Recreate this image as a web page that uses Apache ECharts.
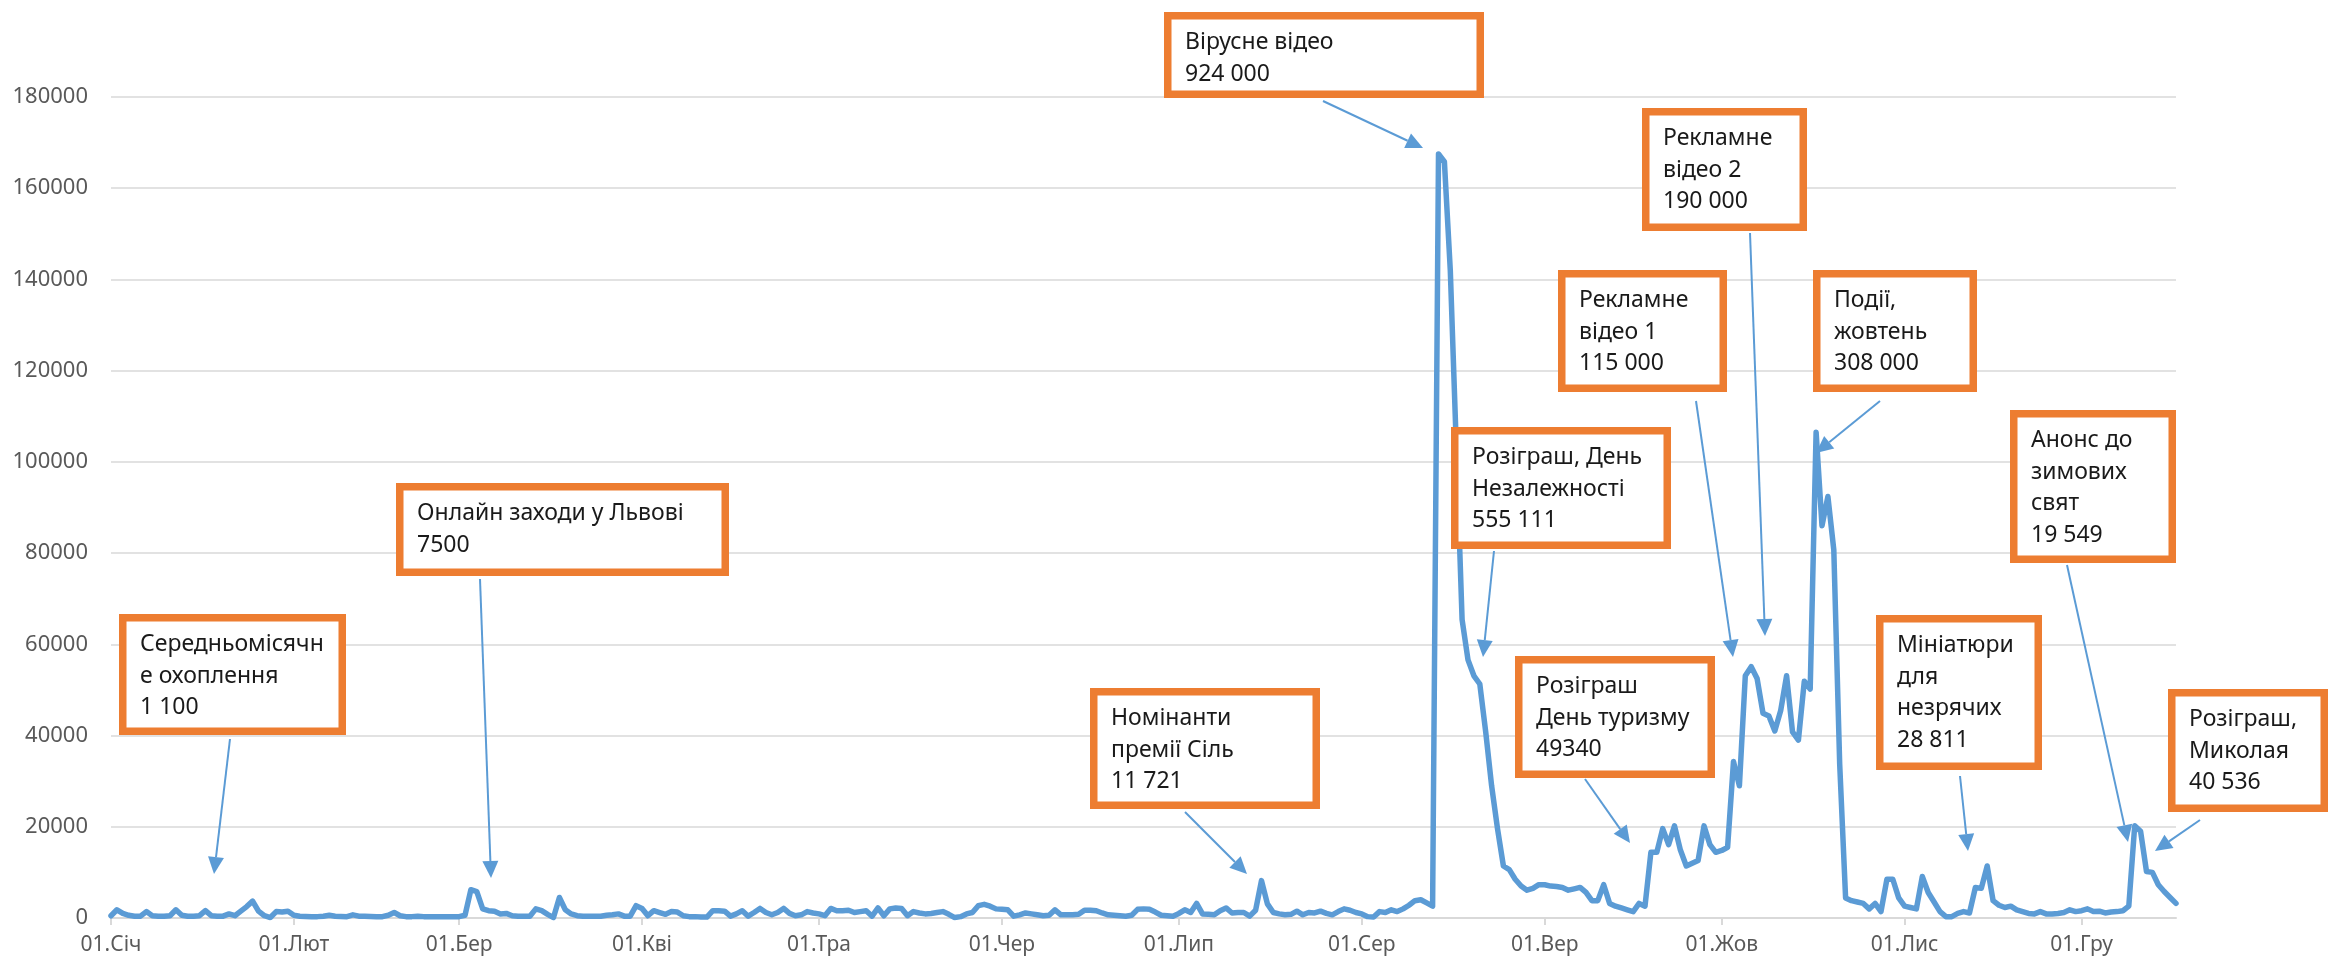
<!DOCTYPE html>
<html><head><meta charset="utf-8">
<script src="https://cdn.jsdelivr.net/npm/echarts@6/dist/echarts.min.js"></script>
<style>html,body{margin:0;padding:0;background:#fff}#c{width:2331px;height:965px}</style>
</head><body><div id="c"></div><script>
// ---- data ----
const monthNames = ['Січ','Лют','Бер','Кві','Тра','Чер','Лип','Сер','Вер','Жов','Лис','Гру'];
const monthDays  = [31,28,31,30,31,30,31,31,30,31,30,17];
const jan = [500,1800,1000,600,400,400,1400,500,400,400,500,1800,600,400,400,500,1600,500,400,400,900,500,1500,2500,3700,1500,500,100,1400,1300,1500];
const feb = [600,400,350,300,300,400,600,400,350,300,700,400,400,350,300,300,600,1200,500,300,300,400,300,300,300,300,300,300];
const mar = [300,600,6200,5800,2000,1600,1500,900,1000,500,400,400,400,2000,1600,800,100,4500,1800,900,500,400,400,400,400,600,700,900,400,400,2700];
const apr = [2100,500,1600,1200,800,1400,1300,500,300,300,200,200,1600,1600,1500,400,900,1600,400,1200,2100,1200,700,1200,2100,1000,500,700,1400,1100];
const may = [900,500,2100,1600,1600,1700,1200,1400,1600,400,2200,500,2000,2200,2100,500,1400,1100,900,1000,1200,1400,800,100,300,900,1200,2700,3000,2600,2000];
const jun = [1900,1800,400,700,1100,900,700,500,600,1800,700,700,700,800,1700,1700,1600,1100,700,600,500,400,600,1900,2000,1900,1300,600,500,400];
const jul = [1000,1800,1200,3200,900,800,700,1600,2200,1100,1200,1200,400,1700,8200,3100,1200,900,700,800,1500,700,1200,1100,1500,1000,700,1400,2000,1700,1200];
const aug = [900,300,200,1400,1200,1800,1400,2000,2800,3800,4000,3300,2600,167500,165800,142000,104000,65400,56600,53100,51300,40800,29000,19600,11400,10600,8500,7000,6100,6500,7300];
const sep = [7300,7000,6900,6700,6100,6400,6700,5600,3800,3800,7300,3200,2600,2200,1800,1400,3200,2600,14400,14400,19600,16100,20200,14900,11400,12000,12600,20200,16100,14400];
const oct = [14800,15500,34300,29000,53100,55100,52500,44900,44300,41000,45500,53100,40800,39000,51900,50200,106500,86000,92400,80700,33700,4400,3800,3500,3200,2000,3200,1400,8500,8500,4400];
const nov = [2600,2300,2000,9100,5600,3500,1400,300,300,1000,1400,1100,6700,6500,11400,3800,2800,2300,2600,1800,1400,1000,900,1400,900,900,1000,1200,1800,1400];
const dec = [1600,2000,1400,1500,1100,1300,1400,1600,2600,20200,19000,10200,10000,7300,5800,4500,3200];
const values = [].concat(jan,feb,mar,apr,may,jun,jul,aug,sep,oct,nov,dec);
const yMin = 0, yMax = 180000, yStep = 20000;

const categories = [];
const monthStarts = [];
monthNames.forEach((m, i) => {
  monthStarts.push(categories.length);
  for (let d = 1; d <= monthDays[i]; d++) categories.push(String(d).padStart(2,'0') + '.' + m);
});

const notes = [
  {lines:['Середньомісячн','е охоплення','1 100'], box:[119,614,346,735], arrow:[230,739,214,874]},
  {lines:['Онлайн заходи у Львові','7500'], box:[396,483,729,576], arrow:[480,579,491,878]},
  {lines:['Номінанти','премії Сіль','11 721'], box:[1090,688,1320,809], arrow:[1185,812,1247,874]},
  {lines:['Вірусне відео','924 000'], box:[1164,12,1484,98], arrow:[1323,101,1423,148]},
  {lines:['Розіграш, День','Незалежності','555 111'], box:[1451,427,1671,549], arrow:[1494,551,1483,657]},
  {lines:['Розіграш','День туризму','49340'], box:[1515,656,1715,778], arrow:[1585,779,1630,843]},
  {lines:['Рекламне','відео 1','115 000'], box:[1558,270,1727,392], arrow:[1696,401,1733,657]},
  {lines:['Рекламне','відео 2','190 000'], box:[1642,108,1807,231], arrow:[1750,233,1765,636]},
  {lines:['Події,','жовтень','308 000'], box:[1813,270,1977,392], arrow:[1880,401,1816,453]},
  {lines:['Мініатюри','для','незрячих','28 811'], box:[1876,615,2042,770], arrow:[1960,776,1968,851]},
  {lines:['Анонс до','зимових','свят','19 549'], box:[2010,410,2176,563], arrow:[2067,565,2128,842]},
  {lines:['Розіграш,','Миколая','40 536'], box:[2168,689,2328,812], arrow:[2200,820,2155,851]}
];

// ---- chart ----
const FONT = '"Noto Sans", sans-serif';
const ORANGE = '#ED7D31', BLUE = '#5B9BD5';
const chart = echarts.init(document.getElementById('c'), null, {renderer:'canvas'});

function arrowEls(a) {
  const [x1,y1,x2,y2] = a;
  const ang = Math.atan2(y2-y1, x2-x1);
  const L = 17, W = 8;
  const bx = x2 - L*Math.cos(ang), by = y2 - L*Math.sin(ang);
  const px = -Math.sin(ang)*W, py = Math.cos(ang)*W;
  return [
    {type:'line', z:120, shape:{x1:x1,y1:y1,x2:bx,y2:by}, style:{stroke:BLUE, lineWidth:2}},
    {type:'polygon', z:120, shape:{points:[[x2,y2],[bx+px,by+py],[bx-px,by-py]]}, style:{fill:BLUE}}
  ];
}
const graphics = [];
const SW = 7.5;
notes.forEach(n => {
  const [x1,y1,x2,y2] = n.box;
  graphics.push({type:'rect', z:100, shape:{x:x1+SW/2, y:y1+SW/2, width:x2-x1-SW, height:y2-y1-SW},
    style:{fill:'#fff', stroke:ORANGE, lineWidth:SW}});
  graphics.push({type:'text', z:110, x:x1+21, y:y1+15,
    style:{text:n.lines.join('\n'), font:'23px ' + FONT, fill:'#1a1a1a', lineHeight:31.5, verticalAlign:'top', align:'left'}});
  arrowEls(n.arrow).forEach(e => graphics.push(e));
});

const isMonthStart = (i) => monthStarts.indexOf(i) >= 0;

chart.setOption({
  animation:false,
  backgroundColor:'#fff',
  grid:{left:111, right:155, top:97, bottom:47, containLabel:false},
  xAxis:{
    type:'category', data:categories, boundaryGap:false,
    axisLine:{lineStyle:{color:'#D9D9D9', width:2}},
    axisTick:{show:true, interval:isMonthStart, length:7, lineStyle:{color:'#D9D9D9', width:2}},
    axisLabel:{interval:isMonthStart, margin:17, fontFamily:FONT, fontSize:21, color:'#595959'},
    splitLine:{show:false}
  },
  yAxis:{
    type:'value', min:yMin, max:yMax, interval:yStep,
    axisLine:{show:false}, axisTick:{show:false},
    axisLabel:{margin:23, fontFamily:FONT, fontSize:22, color:'#595959', formatter:(v) => String(v)},
    splitLine:{lineStyle:{color:'#D9D9D9', width:1.6}}
  },
  series:[{
    type:'line', data:values, showSymbol:false, symbol:'none', smooth:false,
    lineStyle:{color:BLUE, width:5.5, join:'round', cap:'round'}, z:5
  }],
  graphic:graphics
});
</script></body></html>
